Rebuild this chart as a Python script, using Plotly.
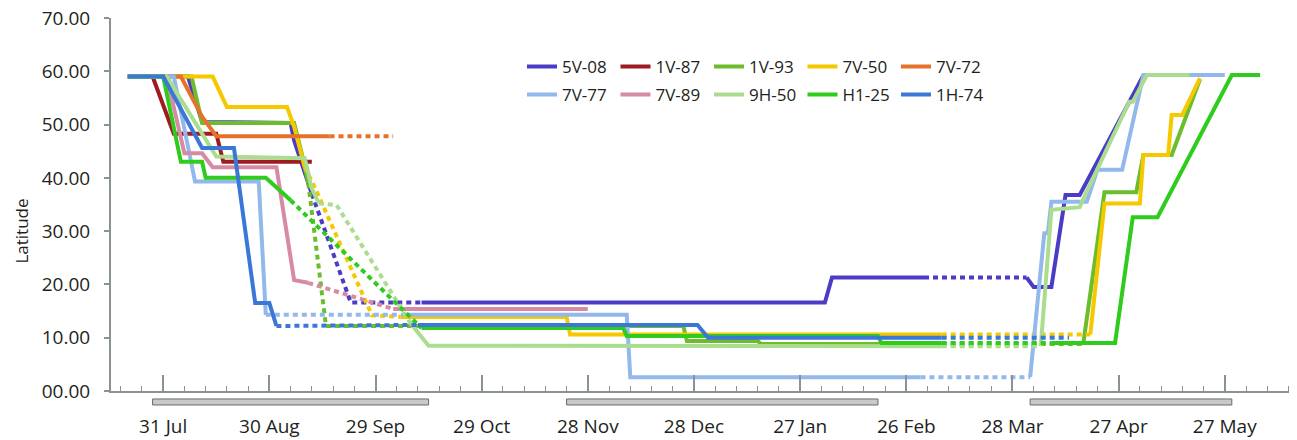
import plotly.graph_objects as go

# ---------------- data ----------------
series_names = ["5V-08", "1V-87", "1V-93", "7V-50", "7V-72",
                "7V-77", "7V-89", "9H-50", "H1-25", "1H-74"]

# dates ("DD Mon"; Jul-Dec 2010, Jan-Jun 2011), latitude, and whether the
# segment leading to the next point is an estimated (interpolated) track
dates_5V08 = ["21 Jul", "7 Aug", "11 Aug", "5 Sep", "6 Sep", "11 Sep", "21 Sep", "22 Sep", "12 Oct",
              "3 Feb", "5 Feb", "3 Mar", "1 Apr", "3 Apr", "8 Apr", "12 Apr", "16 Apr", "4 May"]
lat_5V08 = [59, 59, 50.5, 50.3, 47, 37, 18, 16.6, 16.6, 16.6, 21.3, 21.3, 21.3, 19.5, 19.5, 36.8, 36.8, 59.2]
est_5V08 = [0, 0, 0, 0, 0, 1, 1, 1, 0, 0, 0, 1, 0, 0, 0, 0, 0]

dates_1V87 = ["21 Jul", "28 Jul", "3 Aug", "15 Aug", "17 Aug", "11 Sep"]
lat_1V87 = [59, 59, 48.3, 48.3, 43, 43]
est_1V87 = [0, 0, 0, 0, 0]

dates_1V93 = ["21 Jul", "8 Aug", "11 Aug", "6 Sep", "8 Sep", "10 Sep", "15 Sep", "11 Oct", "25 Dec",
              "26 Dec", "15 Jan", "16 Jan", "8 Mar", "17 Apr", "23 Apr", "2 May", "4 May", "12 May", "20 May"]
lat_1V93 = [59, 59, 50.3, 50.3, 45, 39, 12.2, 12.2, 12.2, 9.4, 9.4, 8.8, 8.8, 8.8, 37.3, 37.3, 44.3, 44.3, 58.5]
est_1V93 = [0, 0, 0, 0, 0, 1, 1, 0, 0, 0, 0, 0, 1, 0, 0, 0, 0, 0]

dates_7V50 = ["21 Jul", "14 Aug", "18 Aug", "4 Sep", "6 Sep", "9 Sep", "12 Sep", "28 Sep", "6 Oct", "22 Nov",
              "23 Nov", "8 Mar", "19 Apr", "23 Apr", "3 May", "4 May", "11 May", "12 May", "15 May", "20 May"]
lat_7V50 = [59, 59, 53.3, 53.3, 49.6, 42, 38, 14.2, 13.9, 13.9, 10.6, 10.6, 10.6, 35.2, 35.2, 44.3, 44.3,
            51.8, 51.8, 58.7]
est_7V50 = [0, 0, 0, 0, 0, 1, 1, 1, 0, 0, 0, 1, 0, 0, 0, 0, 0, 0, 0]

dates_7V72 = ["21 Jul", "5 Aug", "11 Aug", "15 Aug", "16 Sep", "4 Oct"]
lat_7V72 = [59, 59, 51.5, 47.8, 47.8, 47.8]
est_7V72 = [0, 0, 0, 0, 1]

dates_7V77 = ["21 Jul", "3 Aug", "9 Aug", "27 Aug", "29 Aug", "8 Oct", "9 Dec", "10 Dec", "2 Mar",
              "2 Apr", "6 Apr", "7 Apr", "8 Apr", "18 Apr", "21 Apr", "28 Apr", "4 May", "27 May"]
lat_7V77 = [59, 59, 39.3, 39.3, 14.3, 14.3, 14.3, 2.6, 2.6, 2.6, 29.6, 29.6, 35.5, 35.5, 41.5, 41.5,
            59.3, 59.3]
est_7V77 = [0, 0, 0, 0, 1, 0, 0, 0, 1, 0, 0, 0, 0, 0, 0, 0, 0]

dates_7V89 = ["21 Jul", "1 Aug", "6 Aug", "11 Aug", "14 Aug", "1 Sep", "6 Sep", "10 Sep", "4 Oct", "28 Nov"]
lat_7V89 = [59, 59, 44.6, 44.6, 42, 42, 20.8, 20.3, 15.4, 15.4]
est_7V89 = [0, 0, 0, 0, 0, 0, 0, 1, 0]

dates_9H50 = ["21 Jul", "1 Aug", "15 Aug", "9 Sep", "11 Sep", "13 Sep", "18 Sep", "9 Oct", "14 Oct",
              "8 Mar", "5 Apr", "8 Apr", "16 Apr", "17 Apr", "30 Apr", "1 May", "5 May", "17 May"]
lat_9H50 = [59, 59, 44, 43.7, 38, 35.2, 34.9, 12.6, 8.5, 8.4, 8.4, 34, 34.5, 36, 54.3, 54.3, 59.3, 59.3]
est_9H50 = [0, 0, 0, 0, 0, 1, 1, 0, 0, 1, 0, 0, 0, 0, 0, 0, 0]

dates_H125 = ["21 Jul", "31 Jul", "5 Aug", "11 Aug", "12 Aug", "29 Aug", "3 Sep", "5 Sep", "12 Oct",
              "8 Dec", "9 Dec", "18 Feb", "19 Feb", "8 Mar", "8 Apr", "26 Apr", "1 May", "8 May",
              "29 May", "6 Jun"]
lat_H125 = [59, 59, 43, 43, 40, 40, 37, 35.8, 11.8, 11.8, 10.3, 10.3, 9.0, 9.0, 9.0, 9.0, 32.6, 32.6,
            59.3, 59.3]
est_H125 = [0, 0, 0, 0, 0, 0, 0, 1, 0, 0, 0, 0, 0, 1, 0, 0, 0, 0, 0]

dates_1H74 = ["21 Jul", "31 Jul", "11 Aug", "20 Aug", "26 Aug", "30 Aug", "1 Sep", "11 Oct", "29 Dec",
              "1 Jan", "8 Mar", "13 Apr"]
lat_1H74 = [59, 59, 45.6, 45.6, 16.5, 16.5, 12.2, 12.4, 12.4, 10.0, 10.0, 10.0]
est_1H74 = [0, 0, 0, 0, 0, 0, 1, 0, 0, 0, 1]

series_dates = [dates_5V08, dates_1V87, dates_1V93, dates_7V50, dates_7V72,
                dates_7V77, dates_7V89, dates_9H50, dates_H125, dates_1H74]
series_lat = [lat_5V08, lat_1V87, lat_1V93, lat_7V50, lat_7V72,
              lat_7V77, lat_7V89, lat_9H50, lat_H125, lat_1H74]
series_est = [est_5V08, est_1V87, est_1V93, est_7V50, est_7V72,
              est_7V77, est_7V89, est_9H50, est_H125, est_1H74]

# grey period bars under the axis
period_start = ["28 Jul", "22 Nov", "2 Apr"]
period_end = ["14 Oct", "18 Feb", "29 May"]

x_tick_labels = ["31 Jul", "30 Aug", "29 Sep", "29 Oct", "28 Nov", "28 Dec",
                 "27 Jan", "26 Feb", "28 Mar", "27 Apr", "27 May"]
y_tick_values = [0, 10, 20, 30, 40, 50, 60, 70]
y_tick_labels = ["00.00", "10.00", "20.00", "30.00", "40.00", "50.00", "60.00", "70.00"]

# ---------------- styling ----------------
colors = ["#4b3cc6", "#9e1b22", "#6bbd2c", "#f6c800", "#e4722b",
          "#92b8ec", "#d68aa3", "#abdd8e", "#2fcb1d", "#3b77d6"]
MONTHS = {"Jan": 1, "Feb": 2, "Mar": 3, "Apr": 4, "May": 5, "Jun": 6,
          "Jul": 7, "Aug": 8, "Sep": 9, "Oct": 10, "Nov": 11, "Dec": 12}


def iso(label):
    d, m = label.split()
    mo = MONTHS[m]
    yr = 2010 if mo >= 7 else 2011
    return f"{yr}-{mo:02d}-{int(d):02d}"


FONT = "Open Sans"
TXT = "#231f20"
AX = "#8a9292"

fig = go.Figure()

for k, name in enumerate(series_names):
    xs = [iso(s) for s in series_dates[k]]
    ys = series_lat[k]
    est = series_est[k]
    # split into runs of equal style
    runs = []
    start = 0
    for i in range(1, len(est) + 1):
        if i == len(est) or est[i] != est[start]:
            runs.append((start, i, est[start]))
            start = i
    first = True
    for (a, b, e) in runs:
        fig.add_trace(go.Scatter(
            x=xs[a:b + 1], y=ys[a:b + 1], mode="lines", name=name,
            legendgroup=name, showlegend=first,
            legend="legend" if k < 5 else "legend2",
            line=dict(color=colors[k], width=4, dash="5px,4px" if e else "solid"),
            hoverinfo="skip"))
        first = False

for s, e in zip(period_start, period_end):
    fig.add_shape(type="rect", xref="x", yref="paper", x0=iso(s), x1=iso(e),
                  y0=-0.0375, y1=-0.0214, fillcolor="#c9c9c9",
                  line=dict(color="#6a6a6a", width=1), layer="above")

legend_common = dict(orientation="h", xanchor="left", yanchor="middle",
                     entrywidth=48.5, entrywidthmode="pixels",
                     font=dict(family=FONT, size=17, color=TXT),
                     bgcolor="rgba(0,0,0,0)", itemwidth=30, tracegroupgap=0)

fig.update_layout(
    width=1289, height=432,
    margin=dict(l=103, r=5, t=10, b=49, autoexpand=False),
    paper_bgcolor="white", plot_bgcolor="white",
    font=dict(family=FONT, color=TXT),
    legend=dict(x=0.348, y=0.869, **legend_common),
    legend2=dict(x=0.348, y=0.794, **legend_common),
    xaxis=dict(
        type="date", range=["2010-07-16 06:00", "2011-06-15"],
        showline=True, linecolor=AX, linewidth=2,
        ticks="inside", ticklen=16, tickwidth=1.5, tickcolor=AX,
        tickvals=[iso(t) for t in x_tick_labels], ticktext=x_tick_labels,
        tickfont=dict(family=FONT, size=19, color=TXT),
        ticklabelstandoff=17, ticklabeloverflow="allow", automargin=False,
        showgrid=False, zeroline=False,
        minor=dict(ticks="inside", ticklen=5, tickwidth=1, tickcolor=AX,
                   dtick=6 * 86400000, tick0="2010-07-31", showgrid=False),
    ),
    yaxis=dict(
        range=[0, 70], showline=True, linecolor=AX, linewidth=2,
        ticks="outside", ticklen=5, tickwidth=1.5, tickcolor=AX,
        tickvals=y_tick_values, ticktext=y_tick_labels,
        tickfont=dict(family=FONT, size=19, color=TXT),
        ticklabelstandoff=10, ticklabeloverflow="allow", automargin=False,
        showgrid=False, zeroline=False,
    ),
    annotations=[dict(text="Latitude", textangle=-90, xref="paper", yref="paper",
                      x=-0.0754, y=0.43, xanchor="center", yanchor="middle",
                      showarrow=False, font=dict(family=FONT, size=17, color=TXT))],
)

fig.write_html("out.html")
